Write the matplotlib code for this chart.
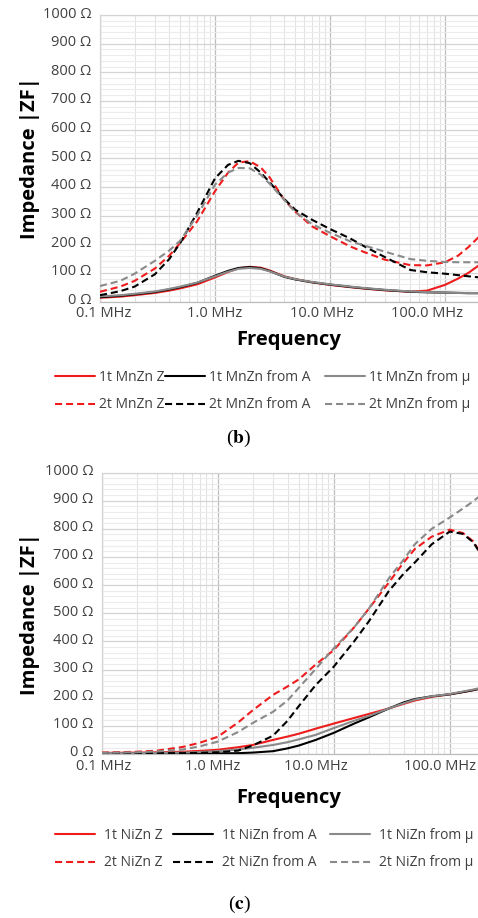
import matplotlib
matplotlib.use("Agg")
import matplotlib.pyplot as plt
from matplotlib.ticker import FixedLocator, FixedFormatter, MultipleLocator, LogLocator, NullFormatter
from matplotlib.transforms import ScaledTranslation

plt.rcParams['font.family'] = ['Open Sans', 'DejaVu Sans']
plt.rcParams['mathtext.fontset'] = 'stix'

# ---- axis ticks -------------------------------------------------------------
x_ticks = [0.1, 1.0, 10.0, 100.0]
x_tick_labels = ["0.1 MHz", "1.0 MHz", "10.0 MHz", "100.0 MHz"]
y_ticks = [0, 100, 200, 300, 400, 500, 600, 700, 800, 900, 1000]
y_tick_labels = ["0 Ω", "100 Ω", "200 Ω", "300 Ω", "400 Ω", "500 Ω",
                 "600 Ω", "700 Ω", "800 Ω", "900 Ω", "1000 Ω"]

# ---- panel (b): MnZn core, impedance in ohm vs frequency in MHz -------------
f_mnzn = [0.1, 0.15, 0.2, 0.3, 0.4, 0.5, 0.7, 1.0, 1.3, 1.6, 2.0, 2.5, 3.0,
          4.0, 5.0, 7.0, 10, 15, 20, 30, 50, 70, 100, 130, 160, 200]
mnzn_1t_z = [13, 17, 22, 30, 38, 46, 60, 84, 103, 116, 121, 118, 108,
             88, 78, 67, 58, 50, 45, 39, 34, 38, 58, 80, 100, 128]
mnzn_1t_a = [15, 20, 25, 33, 42, 50, 65, 90, 107, 117, 120, 116, 106,
             86, 77, 67, 59, 51, 46, 40, 34, 32, 31, 30, 29, 29]
mnzn_1t_mu = [18, 22, 27, 35, 44, 52, 66, 88, 104, 114, 117, 114, 105,
              87, 78, 68, 60, 52, 47, 41, 35, 33, 31, 30, 30, 29]
mnzn_2t_z = [34, 52, 72, 115, 160, 205, 280, 385, 450, 485, 490, 468, 432,
             355, 313, 262, 228, 192, 172, 146, 127, 126, 137, 160, 190, 228]
mnzn_2t_a = [22, 36, 52, 95, 148, 205, 310, 430, 477, 491, 483, 450, 415,
             358, 320, 285, 253, 220, 192, 155, 110, 102, 97, 92, 88, 84]
mnzn_2t_mu = [54, 72, 97, 142, 178, 213, 300, 408, 450, 466, 465, 443, 410,
              355, 312, 270, 240, 210, 195, 174, 148, 142, 138, 137, 137, 137]

# ---- panel (c): NiZn core ---------------------------------------------------
f_nizn = [0.1, 0.2, 0.3, 0.5, 0.7, 1.0, 1.5, 2.0, 3.0, 4.0, 5.0, 7.0, 10,
          15, 20, 30, 40, 50, 70, 100, 130, 160, 200]
nizn_1t_z = [4, 5, 6, 8, 11, 15, 24, 32, 50, 62, 72, 90, 108,
             128, 142, 162, 178, 190, 203, 212, 220, 227, 236]
nizn_1t_a = [1, 1, 1, 1, 1, 2, 3, 5, 10, 20, 30, 50, 75,
             108, 130, 162, 183, 195, 205, 212, 220, 227, 236]
nizn_1t_mu = [3, 3, 4, 5, 7, 10, 16, 22, 32, 42, 52, 68, 92,
              118, 135, 162, 180, 193, 205, 213, 222, 229, 238]
nizn_2t_z = [5, 8, 12, 25, 40, 61, 112, 155, 210, 240, 265, 318, 369,
             450, 515, 610, 680, 728, 772, 797, 785, 755, 690]
nizn_2t_a = [3, 3, 3, 3, 4, 6, 12, 30, 65, 118, 170, 245, 310,
             400, 470, 580, 640, 680, 745, 790, 782, 752, 688]
nizn_2t_mu = [4, 6, 9, 16, 27, 44, 78, 110, 150, 190, 235, 302, 375,
              450, 515, 625, 690, 745, 800, 840, 872, 898, 930]

legend_b = ["1t MnZn Z", "1t MnZn from A", "1t MnZn from μ",
            "2t MnZn Z", "2t MnZn from A", "2t MnZn from μ"]
legend_c = ["1t NiZn Z", "1t NiZn from A", "1t NiZn from μ",
            "2t NiZn Z", "2t NiZn from A", "2t NiZn from μ"]

RED = "#ee1c1c"
BLACK = "#000000"
GRAY = "#8a8a8a"
TXT = "#404040"
LW = 1.5
DASH = (3.4, 1.9)

W, H = 478, 918
fig = plt.figure(figsize=(W / 100, H / 100), dpi=100)


def fx(px):
    return px / W


def fy(py):
    return 1 - py / H


def make_panel(rect, freq, series, labels, ylab_y, flab_y, leg_x, leg_y, leg_pad,
               xlab_shift, cap_y, cap):
    ax = fig.add_axes(rect)
    ax.set_xscale("log")
    ax.set_xlim(0.1, 200)
    ax.set_ylim(0, 1000)
    colors = [RED, BLACK, GRAY]
    handles = []
    for i, (vals, lab) in enumerate(zip(series, labels)):
        c = colors[i % 3]
        if i < 3:
            ln, = ax.plot(freq, vals, color=c, lw=LW, solid_capstyle="round", label=lab, zorder=3)
        else:
            ln, = ax.plot(freq, vals, color=c, lw=LW, dashes=DASH, label=lab, zorder=3)
        handles.append(ln)

    ax.xaxis.set_major_locator(FixedLocator(x_ticks))
    ax.xaxis.set_major_formatter(FixedFormatter(x_tick_labels))
    ax.xaxis.set_minor_locator(LogLocator(base=10, subs=[2, 3, 4, 5, 6, 7, 8, 9], numticks=20))
    ax.xaxis.set_minor_formatter(NullFormatter())
    ax.yaxis.set_major_locator(FixedLocator(y_ticks))
    ax.yaxis.set_major_formatter(FixedFormatter(y_tick_labels))
    ax.yaxis.set_minor_locator(MultipleLocator(20))

    ax.grid(which="major", axis="y", color="#d4d4d4", lw=0.9, zorder=0)
    ax.grid(which="minor", axis="y", color="#ececec", lw=0.8, zorder=0)
    ax.grid(which="major", axis="x", color="#bdbdbd", lw=0.9, zorder=0)
    ax.grid(which="minor", axis="x", color="#e2e2e2", lw=0.8, zorder=0)
    ax.set_axisbelow(True)
    ax.tick_params(which="both", length=0)
    ax.tick_params(axis="y", pad=6, labelsize=10.5, labelcolor=TXT)
    ax.tick_params(axis="x", pad=3.5, labelsize=10.5, labelcolor=TXT)
    for s in ("top", "left"):
        ax.spines[s].set_color("#d4d4d4")
        ax.spines[s].set_linewidth(0.9)
    ax.spines["bottom"].set_color("#bdbdbd")
    ax.spines["bottom"].set_linewidth(0.9)
    ax.spines["right"].set_visible(False)

    # tick-label nudges (in pixels at 100 dpi)
    for tick in ax.yaxis.get_major_ticks():
        lab = tick.label1
        lab.set_transform(lab.get_transform() + ScaledTranslation(0, 3 / 100, fig.dpi_scale_trans))
    for tick, dx in zip(ax.xaxis.get_major_ticks(), xlab_shift):
        lab = tick.label1
        lab.set_transform(lab.get_transform() + ScaledTranslation(dx / 100, 0, fig.dpi_scale_trans))

    fig.text(fx(30), fy(ylab_y), "Impedance |ZF|", rotation=90, ha="center", va="center",
             fontsize=14.5, fontweight="bold", color="#000000")
    fig.text(fx(289), fy(flab_y), "Frequency", ha="center", va="center",
             fontsize=14.5, fontweight="bold", color="#000000")

    for col in range(3):
        fig.legend([handles[col], handles[col + 3]], [labels[col], labels[col + 3]],
                   loc="upper left", bbox_to_anchor=(fx(leg_x[col]), fy(leg_y)),
                   frameon=False, borderpad=0, borderaxespad=0, handlelength=2.9,
                   handletextpad=leg_pad, labelspacing=0.9, fontsize=10, labelcolor=TXT)
    fig.text(0.5, fy(cap_y), "(" + r"$\mathbf{" + cap + "}$" + ")", ha="center", va="center",
             fontsize=14, family="Liberation Serif", color="#000000")
    return ax


make_panel([fx(100), fy(301.5), 379.6 / W, 286.5 / H], f_mnzn,
           [mnzn_1t_z, mnzn_1t_a, mnzn_1t_mu, mnzn_2t_z, mnzn_2t_a, mnzn_2t_mu],
           legend_b, ylab_y=158, flab_y=340, leg_x=[55, 165, 325], leg_y=370,
           leg_pad=0.25, xlab_shift=[3.7, 0, -8, -17.5], cap_y=438, cap="b")

make_panel([fx(101.7), fy(754), 382.9 / W, 281.5 / H], f_nizn,
           [nizn_1t_z, nizn_1t_a, nizn_1t_mu, nizn_2t_z, nizn_2t_a, nizn_2t_mu],
           legend_c, ylab_y=614, flab_y=798, leg_x=[55, 173, 330], leg_y=828,
           leg_pad=0.6, xlab_shift=[1.8, -5.3, -18, -10], cap_y=904, cap="c")

fig.savefig("out.png", dpi=100, facecolor="white")
